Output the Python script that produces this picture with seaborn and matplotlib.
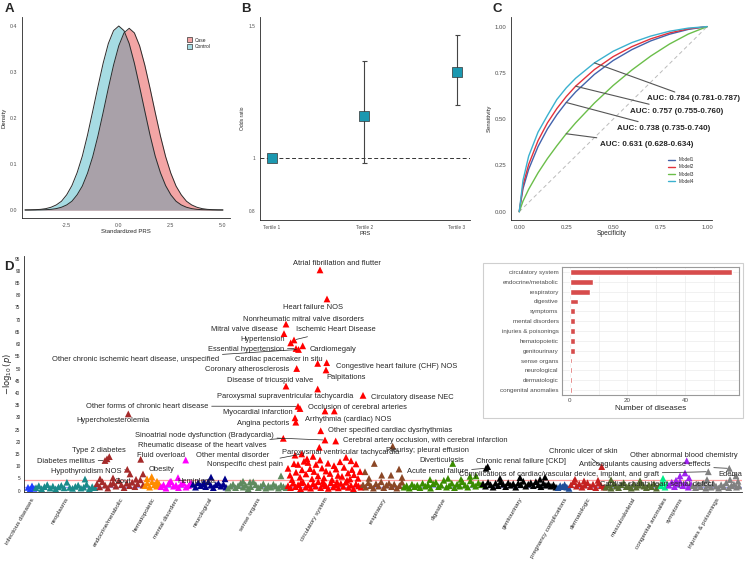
import numpy as np
import pandas as pd
import matplotlib.pyplot as plt
from matplotlib.patches import Patch, Rectangle
import seaborn as sns

sns.set_style('white')
plt.rcParams['font.family'] = ['Liberation Sans', 'DejaVu Sans']
plt.rcParams['axes.linewidth'] = 0.6

W, H = 747, 562


def px_box(left, top, right, bottom):
    return [left / W, 1 - bottom / H, (right - left) / W, (bottom - top) / H]


# ---------------- Panel A: PRS density ----------------
prs_x = [-4.5, -4.25, -4.0, -3.75, -3.5, -3.25, -3.0, -2.75, -2.5, -2.25, -2.0, -1.75, -1.5,
         -1.25, -1.0, -0.75, -0.5, -0.25, 0.0, 0.25, 0.5, 0.75, 1.0, 1.25, 1.5, 1.75, 2.0,
         2.25, 2.5, 2.75, 3.0, 3.25, 3.5, 3.75, 4.0, 4.25, 4.5, 4.75, 5.0]
dens_control = [0.0001, 0.0003, 0.0007, 0.0014, 0.003, 0.006, 0.011, 0.019, 0.033, 0.053, 0.081,
                0.117, 0.163, 0.215, 0.268, 0.319, 0.362, 0.390, 0.400, 0.390, 0.362, 0.319,
                0.268, 0.215, 0.163, 0.117, 0.081, 0.053, 0.033, 0.019, 0.011, 0.006, 0.003,
                0.0014, 0.0007, 0.0003, 0.0001, 0.0, 0.0]
dens_case = [0.0, 0.0, 0.0001, 0.0003, 0.0007, 0.0014, 0.003, 0.006, 0.011, 0.019, 0.033, 0.052,
             0.080, 0.116, 0.161, 0.212, 0.265, 0.315, 0.357, 0.385, 0.395, 0.385, 0.357, 0.315,
             0.265, 0.212, 0.161, 0.116, 0.080, 0.052, 0.033, 0.019, 0.011, 0.006, 0.003,
             0.0014, 0.0007, 0.0003, 0.0001]

# ---------------- Panel B: odds ratios ----------------
tertiles = ['Tertile 1', 'Tertile 2', 'Tertile 3']
odds_ratio = [1.0, 1.16, 1.327]
or_low = [1.0, 0.981, 1.20]
or_high = [1.0, 1.368, 1.468]

# ---------------- Panel C: ROC ----------------
fpr = [0, 0.02, 0.05, 0.1, 0.15, 0.2, 0.25, 0.3, 0.4, 0.5, 0.6, 0.7, 0.8, 0.9, 1.0]
roc_model1 = [0, 0.125, 0.229, 0.352, 0.447, 0.524, 0.590, 0.647, 0.742, 0.817, 0.876, 0.923, 0.959, 0.985, 1.0]
roc_model2 = [0, 0.143, 0.255, 0.384, 0.480, 0.557, 0.622, 0.678, 0.768, 0.838, 0.892, 0.934, 0.966, 0.988, 1.0]
roc_model3 = [0, 0.057, 0.121, 0.210, 0.287, 0.356, 0.421, 0.480, 0.587, 0.682, 0.766, 0.841, 0.906, 0.960, 1.0]
roc_model4 = [0, 0.170, 0.300, 0.430, 0.520, 0.606, 0.669, 0.721, 0.804, 0.867, 0.914, 0.949, 0.975, 0.992, 1.0]
model_names = ['Model1', 'Model2', 'Model3', 'Model4']
model_colors = ['#4363AC', '#E3323B', '#6BBE4A', '#3BB1CF']
auc_text = ['AUC: 0.784 (0.781-0.787)', 'AUC: 0.757 (0.755-0.760)',
            'AUC: 0.738 (0.735-0.740)', 'AUC: 0.631 (0.628-0.634)']
auc_model = [3, 1, 0, 2]
auc_anchor_idx = [8, 7, 6, 6]
auc_text_pos = [(0.68, 0.61), (0.59, 0.544), (0.52, 0.45), (0.43, 0.364)]

# ---------------- Panel D: PheWAS ----------------
categories = ['infectious diseases', 'neoplasms', 'endocrine/metabolic', 'hematopoietic',
              'mental disorders', 'neurological', 'sense organs', 'circulatory system',
              'respiratory', 'digestive', 'genitourinary', 'pregnancy complications',
              'dermatologic', 'musculoskeletal', 'congenital anomalies', 'symptoms',
              'injuries & poisonings']
cat_start = [3, 11, 72, 120, 136, 168, 203, 263, 338, 379, 458, 533, 546, 581, 636, 644, 668]
cat_end = [11, 72, 120, 136, 168, 203, 263, 338, 379, 458, 533, 546, 581, 636, 644, 668, 716]
cat_colors = ['#1E3CFF', '#1A8A8A', '#A52A2A', '#FF8C00', '#FF00FF', '#00008B', '#5F8A5F',
              '#FF0000', '#8B4726', '#3A8C00', '#000000', '#1F4E9A', '#C42020', '#556B2F',
              '#00EE88', '#A020F0', '#808080']

bg_infectious = [1.3, 0.6, 1.9, 0.9]
bg_neoplasms = [1.2, 2.0, 0.8, 1.6, 2.4, 1.0, 1.8, 0.7, 1.5, 2.1, 1.1, 3.4, 1.3, 0.9, 1.7, 2.2,
                1.0, 1.4, 2.6, 0.8, 1.6, 1.2]
bg_endocrine = [2.8, 1.5, 3.6, 2.2, 1.0, 2.6, 3.2, 1.8, 4.0, 2.4, 1.2, 3.0, 2.0, 3.4, 1.6, 2.8, 4.4, 2.2]
bg_hematopoietic = [2.0, 3.0, 1.4, 3.6, 2.4, 1.8, 2.8]
bg_mental = [1.6, 2.4, 1.0, 2.8, 3.8, 1.8, 2.2, 1.2, 2.6, 3.0, 1.4, 2.0, 3.2]
bg_neuro = [2.6, 1.4, 3.2, 2.0, 2.8, 1.6, 3.6, 2.2, 1.2, 2.4, 3.0, 1.8, 2.6, 1.4]
bg_sense = [1.0, 1.8, 2.6, 1.2, 2.0, 3.0, 1.4, 2.2, 0.8, 1.6, 3.6, 2.4, 1.2, 1.8, 2.8, 1.0, 2.0,
            1.4, 2.6, 1.8, 1.0, 2.2, 1.6, 1.2]
bg_circulatory = [2.0, 1.2, 3.0, 1.6, 2.4, 0.8, 3.4, 1.4, 2.2, 1.0, 2.8, 1.8, 3.6, 1.2, 2.6, 2.0,
                  0.9, 3.2, 1.5, 2.4, 1.1, 2.9, 1.7, 3.4, 1.3, 2.2, 0.8, 2.7, 1.9, 1.4]
bg_respiratory = [2.4, 1.4, 3.2, 2.0, 1.0, 2.8, 1.8, 3.6, 1.2, 2.2, 3.0, 1.6, 2.6, 1.0, 2.0, 3.4]
bg_digestive = [1.4, 2.0, 1.0, 2.6, 1.6, 2.2, 1.2, 3.0, 1.8, 2.4, 1.0, 2.8, 3.4, 1.6, 2.2, 4.2,
                1.4, 2.0, 3.0, 1.2, 2.6, 1.8, 3.6, 2.2, 1.4, 4.0, 2.6, 1.8, 3.2, 2.4]
bg_genitourinary = [2.8, 1.8, 3.4, 2.4, 1.4, 3.0, 2.0, 3.6, 2.6, 1.6, 3.2, 2.2, 2.8, 1.4, 3.0, 2.4,
                    3.8, 1.8, 2.6, 3.2, 2.0, 3.6, 2.4, 1.6, 3.0, 2.2, 2.8, 1.8, 2.4, 1.4]
bg_pregnancy = [1.2, 2.0, 1.6, 2.4, 1.4, 0.9]
bg_dermatologic = [2.4, 3.6, 1.8, 2.8, 1.4, 2.2, 3.2, 1.6, 2.6, 1.2, 3.0, 2.0, 1.4]
bg_musculoskeletal = [1.4, 2.2, 1.0, 2.8, 1.8, 1.2, 2.4, 3.2, 1.6, 2.0, 1.0, 2.6, 1.4, 2.2, 3.0,
                      1.8, 1.2, 2.4, 1.6, 2.8, 1.0, 2.0]
bg_congenital = [2.0, 3.2, 1.4, 2.6]
bg_symptoms = [2.2, 3.4, 1.6, 2.8, 3.8, 2.0, 3.0, 1.4, 2.6]
bg_injuries = [2.0, 1.2, 2.6, 1.6, 3.0, 1.0, 2.2, 1.4, 2.8, 1.8, 1.0, 2.4, 1.6, 3.2, 1.2, 2.0,
               2.6, 1.4, 1.8]
background = [bg_infectious, bg_neoplasms, bg_endocrine, bg_hematopoietic, bg_mental, bg_neuro,
              bg_sense, bg_circulatory, bg_respiratory, bg_digestive, bg_genitourinary,
              bg_pregnancy, bg_dermatologic, bg_musculoskeletal, bg_congenital, bg_symptoms,
              bg_injuries]

# named hits: (phenotype, category, phecode index, -log10 p)
named_hits = [
    ('Atrial fibrillation and flutter', 'circulatory system', 296, 90.4),
    ('Heart failure NOS', 'circulatory system', 303, 78.5),
    ('Nonrheumatic mitral valve disorders', 'circulatory system', 262, 68.2),
    ('Mitral valve disease', 'circulatory system', 260, 64.3),
    ('Ischemic Heart Disease', 'circulatory system', 270, 61.7),
    ('Hypertension', 'circulatory system', 266.7, 60.5),
    ('Cardiomegaly', 'circulatory system', 278.7, 59.3),
    ('Essential hypertension', 'circulatory system', 272, 58.2),
    ('Other chronic ischemic heart disease, unspecified', 'circulatory system', 274.5, 57.8),
    ('Cardiac pacemaker in situ', 'circulatory system', 293.7, 52.1),
    ('Congestive heart failure (CHF) NOS', 'circulatory system', 302.7, 52.4),
    ('Coronary atherosclerosis', 'circulatory system', 272.7, 50.0),
    ('Palpitations', 'circulatory system', 302, 49.4),
    ('Disease of tricuspid valve', 'circulatory system', 262, 42.8),
    ('Paroxysmal supraventricular tachycardia', 'circulatory system', 293.7, 41.6),
    ('Circulatory disease NEC', 'circulatory system', 339, 39.0),
    ('Other forms of chronic heart disease', 'circulatory system', 274, 34.5),
    ('Occlusion of cerebral arteries', 'circulatory system', 276, 33.6),
    ('Arrhythmia (cardiac) NOS', 'circulatory system', 301, 32.6),
    ('Myocardial infarction', 'circulatory system', 271, 29.8),
    ('Angina pectoris', 'circulatory system', 271.8, 28.0),
    ('Other specified cardiac dysrhythmias', 'circulatory system', 296.7, 24.5),
    ('Sinoatrial node dysfunction (Bradycardia)', 'circulatory system', 301, 20.7),
    ('Rheumatic disease of the heart valves', 'circulatory system', 259.3, 21.4),
    ('Cerebral artery occlusion, with cerebral infarction', 'circulatory system', 311.7, 20.3),
    ('Paroxysmal ventricular tachycardia', 'circulatory system', 295.3, 17.7),
    ('Nonspecific chest pain', 'circulatory system', 277.7, 15.0),
    ('Hypercholesterolemia', 'endocrine/metabolic', 104.3, 31.4),
    ('Type 2 diabetes', 'endocrine/metabolic', 85.3, 13.9),
    ('Diabetes mellitus', 'endocrine/metabolic', 81, 12.3),
    ('Fluid overload', 'endocrine/metabolic', 116.7, 12.8),
    ('Hypothyroidism NOS', 'endocrine/metabolic', 103.3, 8.7),
    ('Gout', 'endocrine/metabolic', 119, 6.8),
    ('Obesity', 'hematopoietic', 127.7, 5.7),
    ('Other mental disorder', 'mental disorders', 161.7, 12.5),
    ('Hemiplegia', 'neurological', 187, 5.5),
    ('Pleurisy; pleural effusion', 'respiratory', 368.7, 18.2),
    ('Diverticulosis', 'digestive', 428.7, 11.1),
    ('Chronic renal failure [CKD]', 'genitourinary', 463.7, 9.8),
    ('Acute renal failure', 'genitourinary', 462, 9.1),
    ('Complications of cardiac/vascular device, implant, and graft', 'injuries & poisonings', 684.3, 7.7),
    ('Chronic ulcer of skin', 'dermatologic', 577.7, 9.8),
    ('Anticoagulants causing adverse effects', 'injuries & poisonings', 705.3, 9.1),
    ('Other abnormal blood chemistry', 'symptoms', 662.7, 12.2),
    ('Edema', 'injuries & poisonings', 712, 6.0),
    ('Cardiac shunt; heart septal defect', 'congenital anomalies', 639, 5.0),
]

# unlabeled hits: (category, index, -log10 p)
other_hits = [
    ('neoplasms', 61, 4.7), ('endocrine/metabolic', 83, 13.0), ('endocrine/metabolic', 106, 6.8),
    ('endocrine/metabolic', 76, 4.8), ('endocrine/metabolic', 89, 5.2), ('endocrine/metabolic', 112, 4.6),
    ('hematopoietic', 123, 4.8), ('hematopoietic', 133, 3.8), ('mental disorders', 154, 5.3),
    ('mental disorders', 146, 3.6), ('neurological', 201, 4.8), ('neurological', 180, 3.4),
    ('sense organs', 257, 6.0), ('sense organs', 219, 3.8), ('sense organs', 226, 3.5),
    ('circulatory system', 310.3, 32.6), ('respiratory', 350.3, 11.1), ('respiratory', 375, 8.8),
    ('respiratory', 367, 6.3), ('respiratory', 357.7, 6.3), ('respiratory', 341, 7.7),
    ('respiratory', 345, 5.0), ('respiratory', 378, 5.4), ('digestive', 424, 5.0),
    ('digestive', 446, 5.8), ('digestive', 406, 4.5), ('digestive', 452, 6.0), ('digestive', 437, 4.6),
    ('genitourinary', 476, 5.0), ('genitourinary', 496, 5.3), ('genitourinary', 516, 4.6),
    ('genitourinary', 521, 5.5), ('dermatologic', 551, 4.6), ('dermatologic', 574, 4.2),
    ('dermatologic', 560, 3.9), ('musculoskeletal', 587, 4.4), ('musculoskeletal', 616, 4.0),
    ('symptoms', 656, 6.0), ('symptoms', 661, 7.2), ('symptoms', 665, 5.2), ('symptoms', 652, 4.2),
    ('injuries & poisonings', 706, 4.5), ('injuries & poisonings', 714, 3.8),
    ('injuries & poisonings', 683, 4.5),
]
circ_mid_x = [264, 266, 268, 270, 272, 274, 276, 278, 280, 282, 284, 286, 288, 290, 292, 294, 296,
              298, 300, 302, 304, 306, 308, 310, 312, 314, 316, 318, 320, 322, 324, 326, 328, 330,
              332, 334, 336, 271, 283, 299, 313, 327, 323, 277, 289]
circ_mid_p = [9.1, 6.3, 4.5, 11.0, 7.5, 10.7, 5.5, 8.5, 12.0, 6.8, 11.5, 9.0, 4.8, 7.8, 10.7, 6.0,
              12.5, 9.2, 5.2, 8.0, 11.2, 7.0, 4.5, 10.2, 8.8, 6.2, 11.8, 5.8, 9.5, 13.6, 7.2, 4.8,
              8.6, 6.5, 10.9, 5.0, 7.8, 14.5, 13.0, 3.8, 3.5, 12.2, 4.2, 3.2, 14.0]

# label positions (text left x, text y, draw connector)
label_pos = {
    'Atrial fibrillation and flutter': (269, 93.2, False),
    'Heart failure NOS': (259, 75.2, False),
    'Nonrheumatic mitral valve disorders': (219, 69.9, False),
    'Mitral valve disease': (187, 65.8, False),
    'Ischemic Heart Disease': (272, 65.8, True),
    'Hypertension': (216, 61.7, False),
    'Cardiomegaly': (286, 57.6, False),
    'Essential hypertension': (184, 57.6, True),
    'Other chronic ischemic heart disease, unspecified': (28, 53.5, True),
    'Cardiac pacemaker in situ': (211, 53.5, False),
    'Congestive heart failure (CHF) NOS': (312, 51.0, False),
    'Coronary atherosclerosis': (181, 49.4, False),
    'Palpitations': (302, 46.5, False),
    'Disease of tricuspid valve': (203, 44.9, False),
    'Paroxysmal supraventricular tachycardia': (193, 38.7, False),
    'Circulatory disease NEC': (347, 38.3, False),
    'Other forms of chronic heart disease': (62, 34.6, True),
    'Occlusion of cerebral arteries': (284, 34.2, False),
    'Myocardial infarction': (199, 31.8, False),
    'Arrhythmia (cardiac) NOS': (281, 29.3, False),
    'Hypercholesterolemia': (52, 28.5, False),
    'Angina pectoris': (213, 27.3, False),
    'Other specified cardiac dysrhythmias': (304, 24.8, False),
    'Sinoatrial node dysfunction (Bradycardia)': (111, 22.7, True),
    'Rheumatic disease of the heart valves': (114, 18.6, True),
    'Cerebral artery occlusion, with cerebral infarction': (319, 20.7, False),
    'Pleurisy; pleural effusion': (362, 16.2, False),
    'Paroxysmal ventricular tachycardia': (258, 15.4, False),
    'Type 2 diabetes': (48, 16.2, False),
    'Diabetes mellitus': (13, 12.1, True),
    'Fluid overload': (113, 14.5, False),
    'Other mental disorder': (172, 14.5, False),
    'Nonspecific chest pain': (183, 10.5, True),
    'Hypothyroidism NOS': (27, 8.0, True),
    'Obesity': (125, 8.8, False),
    'Gout': (91, 3.5, False),
    'Hemiplegia': (153, 3.5, False),
    'Diverticulosis': (395, 12.5, False),
    'Chronic renal failure [CKD]': (452, 11.7, False),
    'Acute renal failure': (383, 7.6, True),
    'Complications of cardiac/vascular device, implant, and graft': (435, 6.4, True),
    'Chronic ulcer of skin': (525, 15.8, True),
    'Anticoagulants causing adverse effects': (555, 10.5, True),
    'Other abnormal blood chemistry': (606, 14.5, False),
    'Edema': (694, 6.4, True),
    'Cardiac shunt; heart septal defect': (576, 2.3, False),
}

# inset: significant diseases per category
inset_cats = ['circulatory system', 'endocrine/metabolic', 'respiratory', 'digestive', 'symptoms',
              'mental disorders', 'injuries & poisonings', 'hematopoietic', 'genitourinary',
              'sense organs', 'neurological', 'dermatologic', 'congenital anomalies']
inset_counts = [56, 8, 7, 3, 2, 2, 2, 2, 2, 1, 1, 1, 1]

fig = plt.figure(figsize=(7.47, 5.62), dpi=100)
tick_grey = '#4D4D4D'

# ---- A ----
axA = fig.add_axes(px_box(22, 17, 230, 218))
overlap = np.minimum(dens_case, dens_control)
axA.fill_between(prs_x, dens_control, color='#A6DCE3', lw=0)
axA.fill_between(prs_x, dens_case, color='#F3A5A5', lw=0)
axA.fill_between(prs_x, overlap, color='#A9A1A9', lw=0)
sns.lineplot(x=prs_x, y=dens_control, ax=axA, color='#2B2B2B', lw=0.7)
sns.lineplot(x=prs_x, y=dens_case, ax=axA, color='#2B2B2B', lw=0.7)
axA.set_xlim(-4.645, 5.34)
axA.set_ylim(-0.0174, 0.4196)
axA.set_xticks([-2.5, 0, 2.5, 5.0], ['-2.5', '0.0', '2.5', '5.0'])
axA.set_yticks([0, 0.1, 0.2, 0.3, 0.4], ['0.0', '0.1', '0.2', '0.3', '0.4'])
axA.set_xlabel('Standardized PRS', fontsize=4.3, labelpad=1)
axA.set_ylabel('Density', fontsize=4.3, labelpad=2)
axA.legend(handles=[Patch(facecolor='#F3A5A5', edgecolor='#333333', lw=0.5, label='Case'),
                    Patch(facecolor='#A6DCE3', edgecolor='#333333', lw=0.5, label='Control')],
           loc='upper left', bbox_to_anchor=(0.77, 0.92), fontsize=3.5, frameon=False,
           handlelength=1.2, handleheight=1.2, handletextpad=0.4, labelspacing=0.2)

# ---- B ----
axB = fig.add_axes(px_box(260, 17, 470, 220))
pos = [1, 2, 3]
axB.axhline(1, ls=(0, (4, 2.5)), color='#333333', lw=0.7)
axB.errorbar(pos, odds_ratio,
             yerr=[np.subtract(odds_ratio, or_low), np.subtract(or_high, odds_ratio)],
             fmt='none', ecolor='#444444', elinewidth=0.8, capsize=1.8, capthick=0.8)
sns.scatterplot(x=pos, y=odds_ratio, ax=axB, marker='s', s=42, color='#1B98B0',
                edgecolor='#333333', linewidth=0.5, zorder=3)
axB.set_xlim(0.873, 3.14)
axB.set_ylim(0.765, 1.535)
axB.set_xticks(pos, tertiles)
axB.set_yticks([0.8, 1.0, 1.5], ['0.8', '1', '1.5'])
axB.set_xlabel('PRS', fontsize=4, labelpad=0.5)
axB.set_ylabel('Odds ratio', fontsize=3.6, labelpad=2)

# ---- C ----
axC = fig.add_axes(px_box(511, 17, 712, 220))
axC.plot([0, 1], [0, 1], ls=(0, (4, 3)), color='#BBBBBB', lw=0.7)
rocs = [roc_model1, roc_model2, roc_model3, roc_model4]
for name, tpr, col in zip(model_names, rocs, model_colors):
    sns.lineplot(x=fpr, y=tpr, ax=axC, color=col, lw=1.0, label=name)
for txt, m, idx, tp in zip(auc_text, auc_model, auc_anchor_idx, auc_text_pos):
    axC.annotate(txt, xy=(fpr[idx], rocs[m][idx]), xytext=tp, fontsize=5.8, fontweight='bold',
                 ha='left', va='center',
                 arrowprops=dict(arrowstyle='-', color='#555555', lw=0.8, shrinkA=0, shrinkB=0))
axC.set_xlim(-0.044, 1.026)
axC.set_ylim(-0.045, 1.052)
axC.set_xticks([0, 0.25, 0.5, 0.75, 1.0], ['0.00', '0.25', '0.50', '0.75', '1.00'])
axC.set_yticks([0, 0.25, 0.5, 0.75, 1.0], ['0.00', '0.25', '0.50', '0.75', '1.00'])
axC.set_xlabel('Specificity', fontsize=4.8, labelpad=0)
axC.set_ylabel('Sensitivity', fontsize=4.3, labelpad=2)
axC.legend(loc='upper left', bbox_to_anchor=(0.76, 0.33), fontsize=3.3, frameon=False,
           handlelength=1.5, labelspacing=0.5)

for ax in (axA, axB, axC):
    sns.despine(ax=ax)
    ax.tick_params(labelsize=3.8, length=2, width=0.5, pad=1.5, labelcolor=tick_grey)
axB.tick_params(labelsize=3.4)
axC.tick_params(labelsize=4.3)

# ---- D: PheWAS manhattan ----
rows = []
for cat, s, e, vals in zip(categories, cat_start, cat_end, background):
    xs = np.linspace(s + 1, e - 1, len(vals))
    rows += [(cat, x, v) for x, v in zip(xs, vals)]
rows += [(c, x, p) for c, x, p in other_hits]
rows += [('circulatory system', x, p) for x, p in zip(circ_mid_x, circ_mid_p)]
rows += [(c, x, p) for _, c, x, p in named_hits]
df = pd.DataFrame(rows, columns=['category', 'index', 'logp'])

axD = fig.add_axes(px_box(24, 256, 742, 492))
axD.axhline(4.3, color='#FF9E9E', lw=0.9, zorder=1)
axD.axhline(1.3, color='#9A9AFF', lw=0.9, zorder=1)
sns.scatterplot(data=df, x='index', y='logp', hue='category', palette=dict(zip(categories, cat_colors)),
                marker='^', s=24, linewidth=0, legend=False, ax=axD, zorder=2)

hit_lookup = {n: (x, p) for n, c, x, p in named_hits}
for name, (tx, ty, connect) in label_pos.items():
    hx, hy = hit_lookup[name]
    if connect:
        axD.annotate(name, xy=(hx, hy), xytext=(tx, ty), fontsize=5.4, ha='left', va='center',
                     arrowprops=dict(arrowstyle='-', color='#222222', lw=0.5, shrinkA=0, shrinkB=1.5))
    else:
        axD.text(tx, ty, name, fontsize=5.4, ha='left', va='center')

axD.set_xlim(0, 718)
axD.set_ylim(-0.6, 96.1)
centers = [(s + e) / 2 for s, e in zip(cat_start, cat_end)]
axD.set_xticks(centers)
axD.set_xticklabels(categories, rotation=60, ha='right', rotation_mode='anchor', fontsize=4.5)
axD.set_yticks(range(0, 96, 5))
axD.tick_params(axis='y', labelsize=3.4, length=1.5, width=0.5, pad=1)
axD.tick_params(axis='x', length=2, width=0.5, pad=1.5)
axD.set_xlabel('')
axD.set_ylabel(r'$-\log_{10}(p)$', fontsize=6, labelpad=1)
sns.despine(ax=axD)

# inset frame + bar chart
fig.patches.append(Rectangle((483 / W, 1 - 418 / H), 260 / W, 155 / H, transform=fig.transFigure,
                             facecolor='white', edgecolor='#CFCFCF', lw=0.8, zorder=1))
axI = fig.add_axes(px_box(562, 267, 739, 395))
axI.set_zorder(3)
sns.barplot(x=inset_counts, y=inset_cats, ax=axI, color='#EE3535', width=0.6, orient='h')
axI.set_xlim(-2.6, 58.5)
axI.set_xticks([0, 20, 40])
axI.set_xticks([10, 30, 50], minor=True)
axI.grid(True, which='both', axis='x', color='#EBEBEB', lw=0.5)
axI.grid(True, which='major', axis='y', color='#EBEBEB', lw=0.5)
axI.set_axisbelow(True)
for sp in axI.spines.values():
    sp.set_color('#9A9A9A')
    sp.set_linewidth(0.8)
axI.tick_params(axis='both', labelsize=4.5, length=1.5, width=0.5, pad=1, colors='#333333')
axI.tick_params(axis='both', labelcolor=tick_grey)
axI.tick_params(which='minor', length=0)
axI.set_xlabel('Number of diseases', fontsize=5.8, labelpad=1)
axI.set_ylabel('')

# panel letters
for letter, x, y in [('A', 9, 9), ('B', 246, 9), ('C', 497, 9), ('D', 9, 267)]:
    fig.text(x / W, 1 - y / H, letter, fontsize=9.5, fontweight='bold', ha='center', va='center')

fig.savefig('out.png', dpi=100)
